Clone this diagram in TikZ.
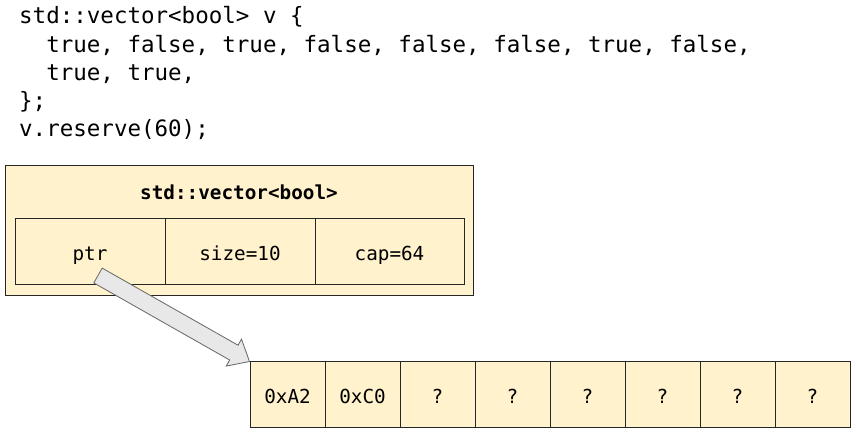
\documentclass[tikz,border=0pt]{standalone}
\usepackage{fontspec}
\setmonofont{DejaVu Sans Mono}
\usetikzlibrary{calc}

\definecolor{boxfill}{HTML}{FFF2CC}
\definecolor{arrowfill}{HTML}{E8E8E8}
\definecolor{arrowline}{HTML}{666666}

\tikzset{
	codeline/.style={anchor=base west, inner sep=0pt, font=\ttfamily\fontsize{22.5}{28}\selectfont},
	cell/.style={draw=black!85, line width=1pt, fill=boxfill, minimum width=150pt, minimum height=66pt, inner sep=0pt, text height=18pt, text depth=0pt, font=\ttfamily\fontsize{19.3}{23}\selectfont},
	slot/.style={cell, minimum width=75pt},
	ptrarrow/.style={draw=arrowline, fill=arrowfill, line width=0.8pt, line join=miter}
}

\begin{document}
\begin{tikzpicture}[x=1pt,y=-1pt]
	\useasboundingbox (0,0) rectangle (857,433);

	% the code
	\node[codeline] (code1) at (19,24) {std::vector<bool> v \{};
	\node[codeline] (code2) at (19,52.25) {\phantom{xx}true, false, true, false, false, false, true, false,};
	\node[codeline] (code3) at (19,80.5) {\phantom{xx}true, true,};
	\node[codeline] (code4) at (19,108.75) {\};};
	\node[codeline] (code5) at (19,137) {v.reserve(60);};

	% the vector object
	\node[cell, minimum width=468pt, minimum height=129pt] (vec) at (239,230.5) {};
	\node[font=\ttfamily\bfseries\fontsize{19.3}{23}\selectfont] (title) at (239,192) {std::vector<bool>};
	\node[cell] (ptr) at (90,251) {ptr};
	\node[cell] (size) at (240,251) {size=10};
	\node[cell, minimum width=149pt] (cap) at (389.5,251) {cap=64};

	% the bytes on the heap
	\node[slot] (slot0) at (287.5,394) {0xA2};
	\node[slot] (slot1) at (362.5,394) {0xC0};
	\node[slot] (slot2) at (437.5,394) {?};
	\node[slot] (slot3) at (512.5,394) {?};
	\node[slot] (slot4) at (587.5,394) {?};
	\node[slot] (slot5) at (662.5,394) {?};
	\node[slot] (slot6) at (737.5,394) {?};
	\node[slot] (slot7) at (812.5,394) {?};

	% pointer arrow
	\coordinate (tail) at ($(ptr.south)+(8,-9)$);
	\coordinate (tip) at ($(slot0.north west)+(0,1)$);
	\coordinate (hb) at ($(tip)!18pt!(tail)$);
	\filldraw[ptrarrow] ($(tail)!8.5pt!90:(tip)$) -- ($(hb)!8.5pt!-90:(tail)$)
	-- ($(hb)!15.5pt!-90:(tail)$) -- (tip) -- ($(hb)!15.5pt!90:(tail)$)
	-- ($(hb)!8.5pt!90:(tail)$) -- ($(tail)!8.5pt!-90:(tip)$) -- cycle;
\end{tikzpicture}
\end{document}
